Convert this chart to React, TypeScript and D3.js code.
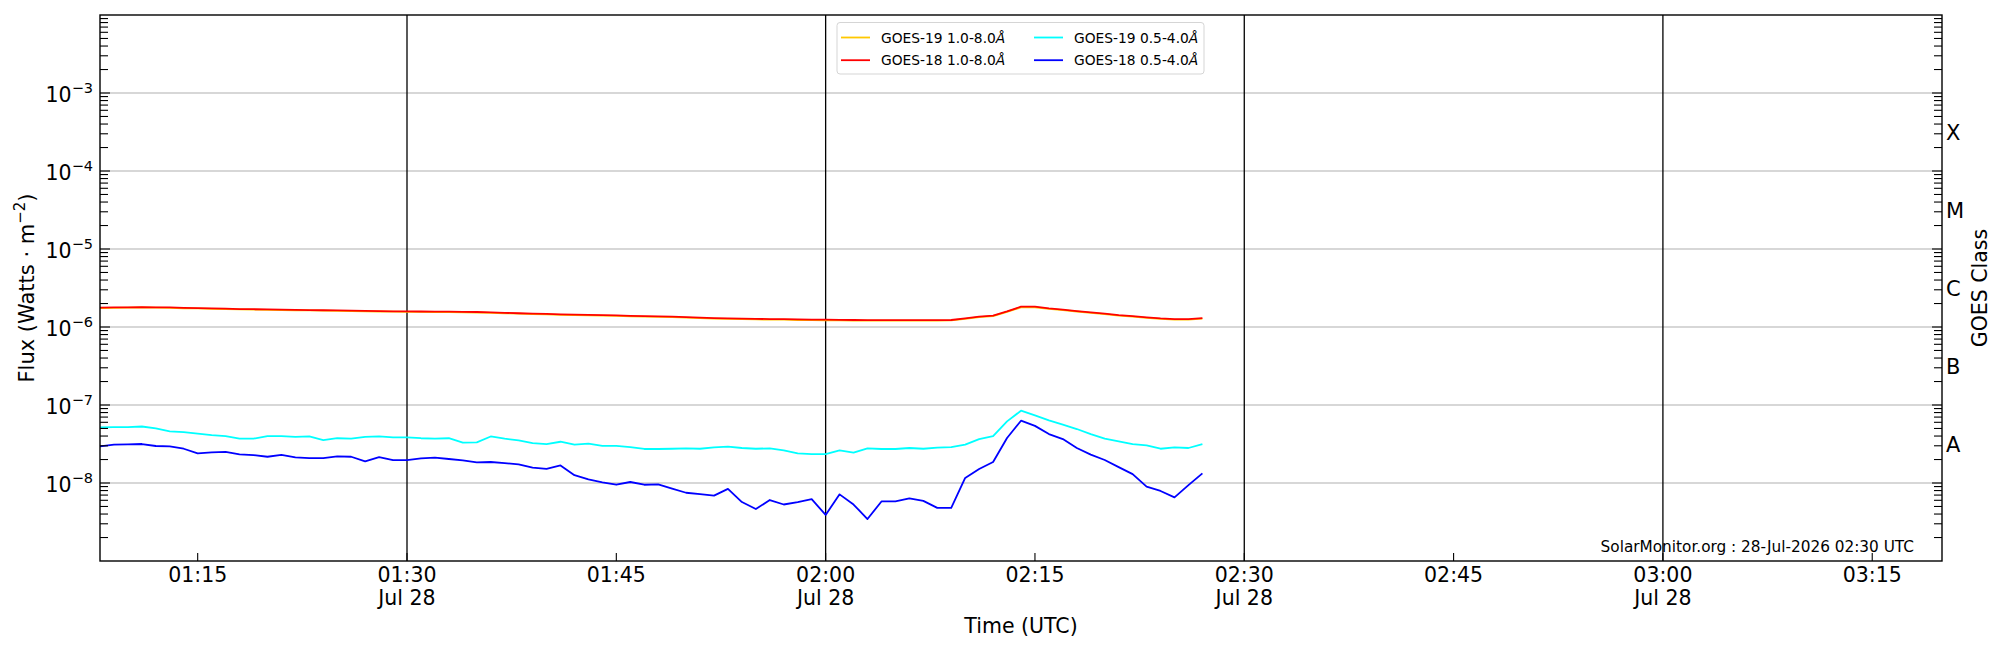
import { useEffect, useRef } from "react";
import * as d3 from "d3";

// One reading per minute, starting 28-Jul-2026 01:08 UTC
const START = Date.UTC(2026, 6, 28, 1, 8);
const X_END = Date.UTC(2026, 6, 28, 3, 20);
const STEP_MS = 60 * 1000;

// 1.0-8.0 A channels, in units of 1e-6 W m^-2
const goes19Long = [
  1.75, 1.76, 1.77, 1.78, 1.77, 1.76, 1.74, 1.73, 1.71, 1.7,
  1.68, 1.67, 1.66, 1.65, 1.64, 1.63, 1.62, 1.61, 1.6, 1.59,
  1.58, 1.57, 1.565, 1.56, 1.555, 1.55, 1.545, 1.535, 1.52, 1.5,
  1.48, 1.46, 1.45, 1.43, 1.42, 1.41, 1.4, 1.39, 1.37, 1.36,
  1.35, 1.34, 1.32, 1.3, 1.28, 1.27, 1.26, 1.25, 1.245, 1.24,
  1.23, 1.225, 1.22, 1.215, 1.21, 1.21, 1.21, 1.21, 1.21, 1.21,
  1.21, 1.215, 1.27, 1.335, 1.38, 1.56, 1.79, 1.79, 1.71, 1.65,
  1.58, 1.52, 1.46, 1.4, 1.36, 1.31, 1.27, 1.245, 1.245, 1.28,
];
const goes18Long = [
  1.77, 1.78, 1.79, 1.8, 1.79, 1.78, 1.76, 1.75, 1.73, 1.72,
  1.7, 1.69, 1.68, 1.67, 1.66, 1.65, 1.64, 1.63, 1.62, 1.61,
  1.6, 1.59, 1.585, 1.58, 1.575, 1.57, 1.565, 1.556, 1.54, 1.52,
  1.5, 1.48, 1.47, 1.45, 1.44, 1.43, 1.42, 1.41, 1.39, 1.38,
  1.37, 1.36, 1.34, 1.32, 1.3, 1.29, 1.28, 1.27, 1.265, 1.26,
  1.25, 1.245, 1.24, 1.235, 1.23, 1.228, 1.228, 1.228, 1.228, 1.228,
  1.228, 1.23, 1.29, 1.355, 1.4, 1.585, 1.82, 1.82, 1.73, 1.67,
  1.6, 1.54, 1.48, 1.42, 1.38, 1.33, 1.29, 1.265, 1.265, 1.3,
];

// 0.5-4.0 A channels, in units of 1e-8 W m^-2
const goes19Short = [
  5.17, 5.2, 5.2, 5.3, 5.0, 4.6, 4.5, 4.3, 4.1, 4.0,
  3.7, 3.7, 4.0, 4.0, 3.9, 3.95, 3.55, 3.75, 3.7, 3.9,
  3.95, 3.85, 3.85, 3.75, 3.7, 3.75, 3.29, 3.32, 3.95, 3.7,
  3.52, 3.25, 3.16, 3.38, 3.1, 3.19, 3.0, 3.0, 2.89, 2.73,
  2.73, 2.75, 2.78, 2.75, 2.86, 2.92, 2.81, 2.75, 2.78, 2.62,
  2.4, 2.35, 2.35, 2.62, 2.45, 2.78, 2.73, 2.73, 2.81, 2.75,
  2.84, 2.89, 3.1, 3.66, 4.0, 6.17, 8.45, 7.36, 6.35, 5.59,
  4.92, 4.24, 3.7, 3.42, 3.16, 3.04, 2.75, 2.86, 2.81, 3.16,
];
const goes18Short = [
  2.95, 3.1, 3.13, 3.16, 2.98, 2.95, 2.75, 2.4, 2.47, 2.5,
  2.33, 2.28, 2.17, 2.3, 2.13, 2.09, 2.09, 2.2, 2.17, 1.89,
  2.14, 1.97, 1.97, 2.07, 2.11, 2.03, 1.95, 1.84, 1.86, 1.8,
  1.73, 1.57, 1.52, 1.68, 1.26, 1.11, 1.02, 0.95, 1.03, 0.95,
  0.96, 0.845, 0.75, 0.72, 0.69, 0.84, 0.57, 0.464, 0.605, 0.53,
  0.57, 0.62, 0.39, 0.715, 0.53, 0.345, 0.58, 0.58, 0.635, 0.59,
  0.48, 0.48, 1.16, 1.51, 1.86, 3.77, 6.29, 5.4, 4.24, 3.66,
  2.81, 2.31, 1.97, 1.6, 1.3, 0.897, 0.79, 0.655, 0.94, 1.33,
];

const seriesLabels = [
  "GOES-19 1.0-8.0",
  "GOES-18 1.0-8.0",
  "GOES-19 0.5-4.0",
  "GOES-18 0.5-4.0",
];
const seriesColors = ["#ffc800", "#ff0000", "#00ffff", "#0000ff"];
const seriesData = [
  goes19Long.map((v) => v * 1e-6),
  goes18Long.map((v) => v * 1e-6),
  goes19Short.map((v) => v * 1e-8),
  goes18Short.map((v) => v * 1e-8),
];

const yLabelExps = [-8, -7, -6, -5, -4, -3];
const goesClasses = ["A", "B", "C", "M", "X"];
const classExps = [-7.5, -6.5, -5.5, -4.5, -3.5];

const W = 2000;
const H = 650;
const MARGIN = { top: 15, right: 58, bottom: 89, left: 100 };
const FONT = "DejaVu Sans";

export default function App() {
  const svgRef = useRef<SVGSVGElement>(null);

  useEffect(() => {
    if (!svgRef.current) return;
    const svg = d3.select(svgRef.current);
    svg.selectAll("*").remove();

    const x0 = MARGIN.left;
    const x1 = W - MARGIN.right;
    const y0 = MARGIN.top;
    const y1 = H - MARGIN.bottom;

    const x = d3
      .scaleUtc()
      .domain([new Date(START), new Date(X_END)])
      .range([x0, x1]);
    const y = d3.scaleLog().domain([1e-9, 1e-2]).range([y1, y0]);

    // horizontal grid at decades
    svg
      .append("g")
      .selectAll("line")
      .data(yLabelExps)
      .join("line")
      .attr("x1", x0)
      .attr("x2", x1)
      .attr("y1", (e) => y(Math.pow(10, e)))
      .attr("y2", (e) => y(Math.pow(10, e)))
      .attr("stroke", "#b0b0b0")
      .attr("stroke-width", 1.1);

    // black half-hour markers
    const halfHours = x.ticks(d3.utcMinute.every(30)!);
    svg
      .append("g")
      .selectAll("line")
      .data(halfHours)
      .join("line")
      .attr("x1", (d) => x(d))
      .attr("x2", (d) => x(d))
      .attr("y1", y0)
      .attr("y2", y1)
      .attr("stroke", "#000")
      .attr("stroke-width", 1.3);

    // flux lines
    const line = d3
      .line<number>()
      .x((_, i) => x(new Date(START + i * STEP_MS)))
      .y((d) => y(d));

    seriesData.forEach((data, i) => {
      svg
        .append("path")
        .datum(data)
        .attr("d", line)
        .attr("fill", "none")
        .attr("stroke", seriesColors[i])
        .attr("stroke-width", 1.8)
        .attr("stroke-linejoin", "round");
    });

    // frame
    svg
      .append("rect")
      .attr("x", x0)
      .attr("y", y0)
      .attr("width", x1 - x0)
      .attr("height", y1 - y0)
      .attr("fill", "none")
      .attr("stroke", "#000")
      .attr("stroke-width", 1.4);

    // log ticks, inward on both sides
    const yTicks = y.ticks();
    const ticks = svg.append("g").attr("stroke", "#000").attr("stroke-width", 1.1);
    yTicks.forEach((t) => {
      const major = Math.abs(Math.log10(t) - Math.round(Math.log10(t))) < 1e-9;
      const len = major ? 10 : 8;
      const ty = y(t);
      if (ty < y0 + 0.5 || ty > y1 - 0.5) return;
      ticks.append("line").attr("x1", x0).attr("x2", x0 + len).attr("y1", ty).attr("y2", ty);
      ticks.append("line").attr("x1", x1).attr("x2", x1 - len).attr("y1", ty).attr("y2", ty);
    });

    // x ticks every 15 minutes
    const xTicks = x.ticks(d3.utcMinute.every(15)!);
    xTicks.forEach((t) => {
      ticks
        .append("line")
        .attr("x1", x(t))
        .attr("x2", x(t))
        .attr("y1", y1)
        .attr("y2", y1 - 8);
    });

    const fmt = d3.utcFormat("%H:%M");
    const fmtDay = d3.utcFormat("%b %d");
    xTicks.forEach((t) => {
      svg
        .append("text")
        .attr("x", x(t))
        .attr("y", y1 + 21)
        .attr("text-anchor", "middle")
        .attr("font-size", 20.5)
        .text(fmt(t));
      if (t.getUTCMinutes() % 30 === 0) {
        svg
          .append("text")
          .attr("x", x(t))
          .attr("y", y1 + 44)
          .attr("text-anchor", "middle")
          .attr("font-size", 20.5)
          .text(fmtDay(t));
      }
    });

    // y tick labels 10^n
    yLabelExps.forEach((e) => {
      const t = svg
        .append("text")
        .attr("x", x0 - 7)
        .attr("y", y(Math.pow(10, e)) + 8.7)
        .attr("text-anchor", "end")
        .attr("font-size", 20.5);
      t.append("tspan").text("10");
      t.append("tspan")
        .attr("dy", -8.5)
        .attr("font-size", 14.5)
        .text(`\u2212${Math.abs(e)}`);
    });

    // axis titles
    svg
      .append("text")
      .attr("x", (x0 + x1) / 2)
      .attr("y", 632.5)
      .attr("text-anchor", "middle")
      .attr("font-size", 20.5)
      .text("Time (UTC)");

    const yl = svg
      .append("text")
      .attr("transform", `translate(33.5,${(y0 + y1) / 2}) rotate(-90)`)
      .attr("text-anchor", "middle")
      .attr("font-size", 21);
    yl.append("tspan").text("Flux (Watts \u00b7 m");
    yl.append("tspan").attr("dy", -9).attr("font-size", 15).text("\u22122");
    yl.append("tspan").attr("dy", 9).text(")");

    // GOES class letters on the right
    goesClasses.forEach((c, i) => {
      svg
        .append("text")
        .attr("x", x1 + 4)
        .attr("y", y(Math.pow(10, classExps[i])) + 7.5)
        .attr("font-size", 21)
        .text(c);
    });
    svg
      .append("text")
      .attr("transform", `translate(1987,${(y0 + y1) / 2}) rotate(-90)`)
      .attr("text-anchor", "middle")
      .attr("font-size", 20.5)
      .text("GOES Class");

    // credit line
    svg
      .append("text")
      .attr("x", 1914)
      .attr("y", 551.5)
      .attr("text-anchor", "end")
      .attr("font-size", 15.3)
      .text("SolarMonitor.org : 28-Jul-2026 02:30 UTC");

    // legend, two columns
    const legend = svg.append("g");
    legend
      .append("rect")
      .attr("x", 837)
      .attr("y", 22.5)
      .attr("width", 367)
      .attr("height", 51.5)
      .attr("rx", 3)
      .attr("fill", "#fff")
      .attr("fill-opacity", 0.8)
      .attr("stroke", "#d5d5d5")
      .attr("stroke-width", 1);

    seriesLabels.forEach((label, i) => {
      const col = Math.floor(i / 2);
      const row = i % 2;
      const lx = 841 + col * 193;
      const ly = 37.5 + row * 22.7;
      legend
        .append("line")
        .attr("x1", lx)
        .attr("x2", lx + 29)
        .attr("y1", ly)
        .attr("y2", ly)
        .attr("stroke", seriesColors[i])
        .attr("stroke-width", 1.8);
      const t = legend
        .append("text")
        .attr("x", lx + 40)
        .attr("y", ly + 5)
        .attr("font-size", 13.8);
      t.append("tspan").text(label);
      t.append("tspan").attr("font-style", "italic").text("\u00c5");
    });
  }, []);

  return (
    <svg
      ref={svgRef}
      width={W}
      height={H}
      style={{ position: "absolute", left: 0, top: 0, background: "#fff" }}
      fontFamily={FONT}
    />
  );
}
